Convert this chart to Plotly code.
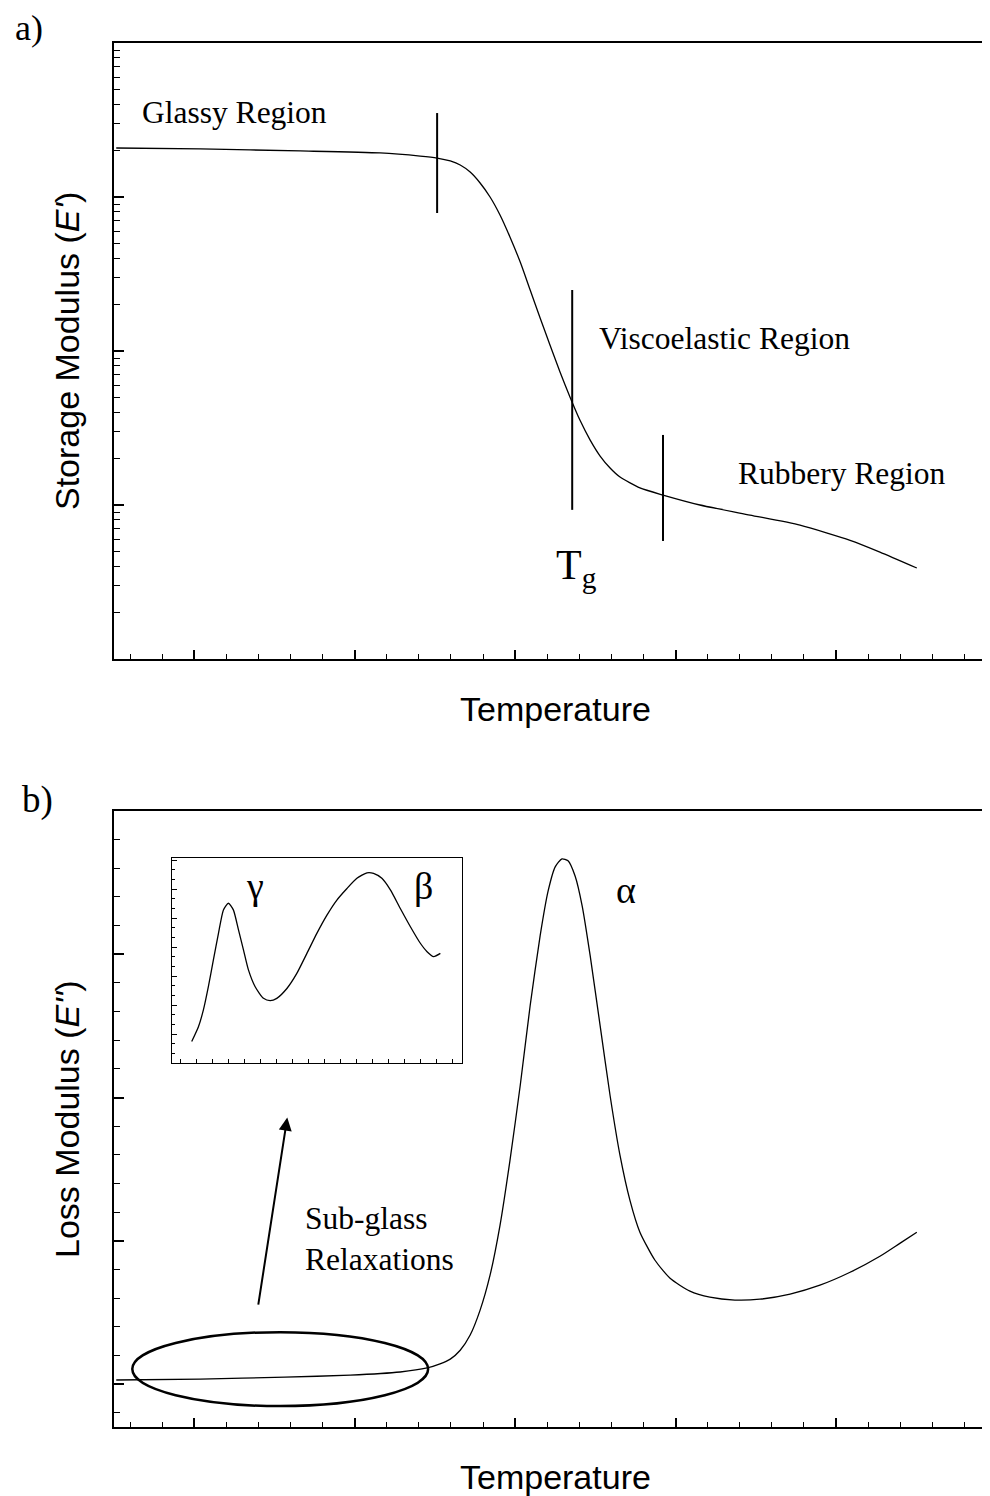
import plotly.graph_objects as go

# ---------------- data (arbitrary units) ----------------
# panel a: storage modulus vs temperature
temp_a = [-2.43, 0.19, 3.30, 5.79, 7.04, 7.57, 7.98, 8.29, 8.60, 8.91, 9.22, 9.53, 9.84,
          10.16, 10.47, 10.78, 11.09, 11.40, 11.71, 12.02, 12.34, 12.65, 12.96, 13.27,
          13.89, 14.61, 15.76, 17.32, 18.88, 20.44, 21.37, 22.52]
storage = [2080, 2051, 1991, 1932, 1845, 1791, 1714, 1614, 1452, 1233, 1000, 764, 550,
           378, 249, 164, 109, 73.1, 50.3, 35.6, 26.4, 20.8, 17.4, 15.2,
           12.9, 11.6, 10.0, 8.6, 7.4, 5.9, 4.95, 3.9]
# region boundary markers (x position, y low, y high)
marker_x = [7.57, 11.78, 14.61]
marker_lo = [787, 9.3, 5.84]
marker_hi = [3509, 249, 28.5]

# panel b: loss modulus vs temperature
temp_b = [-2.43, 0.19, 2.83, 4.86, 6.42, 7.26, 7.66, 7.98, 8.29, 8.60, 8.91, 9.22, 9.53,
          9.84, 10.16, 10.47, 10.78, 11.03, 11.25, 11.46, 11.65, 11.87, 12.09, 12.34,
          12.65, 12.96, 13.27, 13.58, 13.89, 14.36, 14.83, 15.45, 16.07, 16.85, 17.63,
          18.57, 19.50, 20.44, 21.37, 21.99, 22.52]
loss = [0.14, 0.17, 0.24, 0.31, 0.42, 0.56, 0.70, 0.87, 1.18, 1.71, 2.58, 3.80, 5.54,
        7.80, 10.42, 13.21, 15.64, 17.21, 18.05, 18.33, 18.26, 17.73, 16.69, 14.95,
        12.51, 10.07, 7.98, 6.41, 5.30, 4.32, 3.69, 3.24, 3.03, 2.93, 2.96,
        3.14, 3.45, 3.90, 4.46, 4.91, 5.30]

# inset: sub-glass relaxations
temp_in = [0.73, 1.15, 1.46, 1.77, 2.08, 2.40, 2.71, 3.02, 3.33, 3.65, 3.96, 4.27, 4.69,
           5.21, 5.63, 6.04, 6.67, 7.29, 7.92, 8.54, 9.17, 9.79, 10.42, 11.04, 11.67,
           12.08, 12.60, 13.13, 13.75, 14.38, 15.00, 15.42, 15.83, 16.25]
loss_in = [0.74, 1.25, 1.83, 2.63, 3.55, 4.47, 5.28, 5.51, 5.28, 4.59, 3.90, 3.21, 2.63,
           2.23, 2.15, 2.23, 2.57, 3.09, 3.78, 4.47, 5.10, 5.62, 6.02, 6.37, 6.56,
           6.54, 6.37, 5.97, 5.33, 4.70, 4.13, 3.84, 3.67, 3.78]

# sub-glass ellipse (x0, x1, y0, y1) and arrow (tail -> head)
ellipse = [-1.93, 7.29, -0.77, 1.81]
arrow_tail = [1.99, 2.72]
arrow_head = [2.90, 9.30]

# ---------------- layout geometry ----------------
OFF = 8                      # page body margin of the browser
W, H = 990, 1496 - OFF       # plot frame runs past the right edge of the window
L, R, T = 114 - OFF, 0, 43 - OFF
B = H - (1427 - OFF)
PW, PH = W - L - R, H - T - B


def P(px, py):
    """page pixel -> paper coordinates"""
    return (px - OFF - L) / PW, (H - B - (py - OFF)) / PH


SERIF = "Liberation Serif"
SANS = "Liberation Sans"

fig = go.Figure()

fig.add_trace(go.Scatter(x=temp_a, y=storage, mode="lines", xaxis="x", yaxis="y",
                         line=dict(color="black", width=1.3, shape="spline", smoothing=0.6),
                         hoverinfo="skip"))
for mx, lo, hi in zip(marker_x, marker_lo, marker_hi):
    fig.add_trace(go.Scatter(x=[mx, mx], y=[lo, hi], mode="lines", xaxis="x", yaxis="y",
                             line=dict(color="black", width=2), hoverinfo="skip"))

fig.add_trace(go.Scatter(x=temp_b, y=loss, mode="lines", xaxis="x2", yaxis="y2",
                         line=dict(color="black", width=1.3, shape="spline", smoothing=0.6),
                         hoverinfo="skip"))
fig.add_trace(go.Scatter(x=temp_in, y=loss_in, mode="lines", xaxis="x3", yaxis="y3",
                         line=dict(color="black", width=1.3, shape="spline", smoothing=0.6),
                         hoverinfo="skip"))

dec_minor = [m * 10 ** d for d in range(0, 4) for m in range(2, 10)]

axis_common = dict(showgrid=False, zeroline=False, showline=True, linecolor="black",
                   linewidth=2, ticks="inside", tickcolor="black", showticklabels=False)

xa = dict(axis_common, range=[-2.5, 25.05], tick0=0, dtick=5, ticklen=9, tickwidth=1.5,
          mirror=True,
          minor=dict(ticks="inside", dtick=1, tick0=0, ticklen=5, tickwidth=1.2,
                     tickcolor="black", showgrid=False))

fig.update_layout(
    width=W, height=H, margin=dict(l=L, r=R, t=T, b=B),
    paper_bgcolor="white", plot_bgcolor="white", showlegend=False,
    xaxis=dict(xa, anchor="y", domain=[0, 1]),
    yaxis=dict(axis_common, type="log", range=[0, 4], domain=[P(0, 659)[1], 1],
               anchor="x", tickmode="array", tickvals=[1, 10, 100, 1000, 10000],
               ticklen=10, tickwidth=1.5,
               minor=dict(ticks="inside", tickmode="array", tickvals=dec_minor, ticklen=6,
                          tickwidth=1.2, tickcolor="black", showgrid=False)),
    xaxis2=dict(xa, anchor="y2", domain=[0, 1]),
    yaxis2=dict(axis_common, range=[-1.5, 20], domain=[0, P(0, 811)[1]], anchor="x2",
                tick0=0, dtick=5, ticklen=10, tickwidth=1.5,
                minor=dict(ticks="inside", dtick=1, tick0=0, ticklen=6, tickwidth=1.2,
                           tickcolor="black", showgrid=False)),
    xaxis3=dict(showgrid=False, zeroline=False, showline=True, linecolor="black", linewidth=1,
                mirror=True, ticks="inside", ticklen=4, tickwidth=1, tickcolor="black",
                showticklabels=False, range=[-0.5, 17.6], tick0=0, dtick=1,
                domain=[P(172, 0)[0], P(462, 0)[0]], anchor="y3"),
    yaxis3=dict(showgrid=False, zeroline=False, showline=True, linecolor="black", linewidth=1,
                mirror=True, ticks="inside", ticklen=5, tickwidth=1, tickcolor="black",
                showticklabels=False, range=[0, 7.07], tick0=0, dtick=1,
                minor=dict(ticks="inside", dtick=1 / 3, tick0=0, ticklen=3, tickwidth=1,
                           tickcolor="black", showgrid=False),
                domain=[P(0, 1063)[1], P(0, 858)[1]], anchor="x3"),
)

fig.add_shape(type="circle", xref="x2", yref="y2", x0=ellipse[0], x1=ellipse[1],
              y0=ellipse[2], y1=ellipse[3], line=dict(color="black", width=2.5))

fig.add_annotation(xref="x2", yref="y2", axref="x2", ayref="y2",
                   x=arrow_head[0], y=arrow_head[1], ax=arrow_tail[0], ay=arrow_tail[1],
                   text="", showarrow=True, arrowhead=2, arrowsize=1.3, arrowwidth=2,
                   arrowcolor="black")


def txt(text, px, py, size, font=SERIF, xanchor="center", angle=0, align="left"):
    x, y = P(px, py)
    fig.add_annotation(xref="paper", yref="paper", x=x, y=y, text=text, showarrow=False,
                       xanchor=xanchor, yanchor="middle", textangle=angle, align=align,
                       font=dict(family=font, size=size, color="black"))


txt("a)", 29, 28, 36)
txt("b)", 37, 800, 37)
txt("Glassy Region", 140, 113, 31.5, xanchor="left")
txt("Viscoelastic Region", 597, 339, 31.5, xanchor="left")
txt("Rubbery Region", 736, 473, 31.5, xanchor="left")
txt("T<sub>g</sub>", 576, 568, 42)
txt("Sub-glass<br>Relaxations", 303, 1239, 31.5, xanchor="left")
txt("α", 626, 890, 38)
txt("γ", 255, 886, 38)
txt("β", 423, 886, 38)
txt("Temperature", 555, 709, 34, font=SANS)
txt("Temperature", 555, 1477, 34, font=SANS)
txt("Storage Modulus (<i>E'</i>)", 67, 351, 34, font=SANS, angle=-90)
txt("Loss Modulus (<i>E''</i>)", 67, 1119, 34, font=SANS, angle=-90)

fig.write_html("out.html")
